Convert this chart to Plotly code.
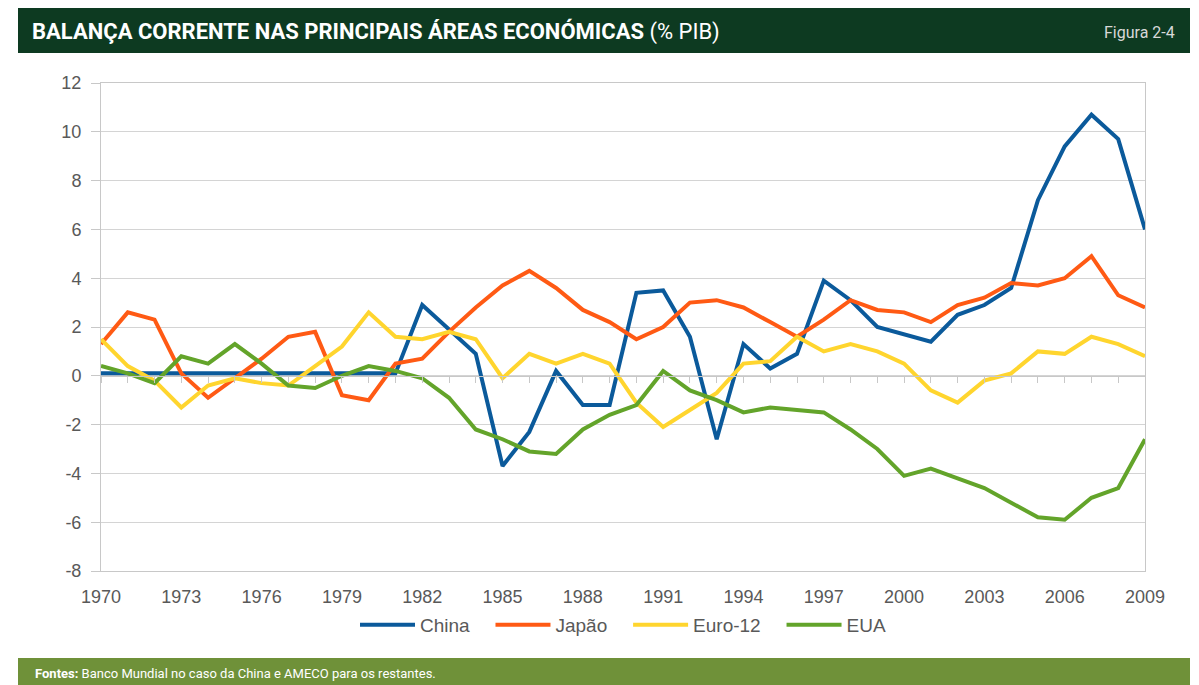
import plotly.graph_objects as go

years = list(range(1970, 2010))
china = [0.1, 0.1, 0.1, 0.1, 0.1, 0.1, 0.1, 0.1, 0.1, 0.1, 0.1, 0.1,
         2.9, 1.9, 0.9, -3.7, -2.3, 0.2, -1.2, -1.2, 3.4, 3.5, 1.6, -2.6,
         1.3, 0.3, 0.9, 3.9, 3.1, 2.0, 1.7, 1.4, 2.5, 2.9, 3.6, 7.2, 9.4,
         10.7, 9.7, 6.0]
japao = [1.3, 2.6, 2.3, 0.1, -0.9, -0.1, 0.7, 1.6, 1.8, -0.8, -1.0, 0.5,
         0.7, 1.8, 2.8, 3.7, 4.3, 3.6, 2.7, 2.2, 1.5, 2.0, 3.0, 3.1, 2.8,
         2.2, 1.6, 2.3, 3.1, 2.7, 2.6, 2.2, 2.9, 3.2, 3.8, 3.7, 4.0, 4.9,
         3.3, 2.8]
euro12 = [1.5, 0.4, -0.2, -1.3, -0.4, -0.1, -0.3, -0.4, 0.4, 1.2, 2.6, 1.6,
          1.5, 1.8, 1.5, -0.1, 0.9, 0.5, 0.9, 0.5, -1.1, -2.1, -1.4, -0.7,
          0.5, 0.6, 1.6, 1.0, 1.3, 1.0, 0.5, -0.6, -1.1, -0.2, 0.1, 1.0,
          0.9, 1.6, 1.3, 0.8]
eua = [0.4, 0.1, -0.3, 0.8, 0.5, 1.3, 0.5, -0.4, -0.5, 0.0, 0.4, 0.2,
       -0.1, -0.9, -2.2, -2.6, -3.1, -3.2, -2.2, -1.6, -1.2, 0.2, -0.6, -1.0,
       -1.5, -1.3, -1.4, -1.5, -2.2, -3.0, -4.1, -3.8, -4.2, -4.6, -5.2,
       -5.8, -5.9, -5.0, -4.6, -2.6]

series_names = ["China", "Japão", "Euro-12", "EUA"]
series_values = [china, japao, euro12, eua]
series_colors = ["#0b5a9b", "#ff5a14", "#ffd52e", "#63a42a"]

x_tickvals = list(range(1970, 2010, 3))
x_ticktext = [str(v) for v in x_tickvals]
y_tickvals = list(range(-8, 13, 2))
y_ticktext = [str(v) for v in y_tickvals]

W, H = 1199, 685
L, R, T, B = 101, 1145, 83, 571


def px(xp):
    return (xp - L) / (R - L)


def py(yp):
    return (B - yp) / (B - T)


fig = go.Figure()
n = len(series_names)
for i, (name, vals, col) in enumerate(zip(series_names, series_values, series_colors)):
    pad = "\u00a0\u00a0\u00a0" if i < n - 1 else ""
    fig.add_trace(go.Scatter(x=years, y=vals, name=name + pad, mode="lines",
                             line=dict(color=col, width=4)))

# invisible trace on the second x axis so it is drawn (zero-line ticks)
fig.add_trace(go.Scatter(x=[1970, 2009], y=[0, 0], xaxis="x2", mode="lines",
                         line=dict(width=0), showlegend=False, hoverinfo="skip"))

axis_font = dict(family="Liberation Sans, Arial", size=18, color="#595959")

fig.update_layout(
    width=W, height=H,
    margin=dict(l=L, r=W - R, t=T, b=H - B),
    paper_bgcolor="white", plot_bgcolor="white",
    showlegend=True,
    legend=dict(orientation="h", x=0.5, xanchor="center",
                y=py(625), yanchor="middle",
                font=dict(family="Liberation Sans, Arial", size=19, color="#595959"),
                itemwidth=55, tracegroupgap=0),
    xaxis=dict(range=[1970, 2009], tickvals=x_tickvals, ticktext=x_ticktext,
               showgrid=False, zeroline=False, showline=True, mirror=True,
               linecolor="#c8c8c8", linewidth=1, ticks="", tickfont=axis_font,
               ticklabelstandoff=9),
    xaxis2=dict(range=[1970, 2009], overlaying="x", anchor="free",
                position=py(376), dtick=1, tick0=1970, ticks="outside",
                ticklen=6, tickcolor="#c8c8c8", showticklabels=False,
                showgrid=False, zeroline=False, showline=True,
                linecolor="#c8c8c8", linewidth=1),
    yaxis=dict(range=[-8, 12], tickvals=y_tickvals, ticktext=y_ticktext,
               showgrid=True, gridcolor="#d4d4d4", gridwidth=1, zeroline=False,
               showline=True, mirror=True, linecolor="#c8c8c8", linewidth=1,
               ticks="outside", ticklen=9, tickcolor="#c8c8c8",
               tickfont=axis_font, ticklabelstandoff=6),
)

# header and footer bars
fig.add_shape(type="rect", xref="paper", yref="paper",
              x0=px(18), x1=px(1190), y0=py(53), y1=py(8),
              fillcolor="#0d3a21", line=dict(width=0), layer="below")
fig.add_shape(type="rect", xref="paper", yref="paper",
              x0=px(18), x1=px(1190), y0=py(685), y1=py(658),
              fillcolor="#6f9139", line=dict(width=0), layer="below")

fig.add_annotation(xref="paper", yref="paper", x=px(30), y=py(31),
                   xanchor="left", yanchor="middle", showarrow=False,
                   text="<b>BALANÇA CORRENTE NAS PRINCIPAIS ÁREAS ECONÓMICAS</b> (% PIB)",
                   font=dict(family="Roboto", size=22, color="white"))
fig.add_annotation(xref="paper", yref="paper", x=px(1177), y=py(33),
                   xanchor="right", yanchor="middle", showarrow=False,
                   text="Figura 2-4",
                   font=dict(family="Roboto", size=16, color="#d8d8d8"))
fig.add_annotation(xref="paper", yref="paper", x=px(33), y=py(673),
                   xanchor="left", yanchor="middle", showarrow=False,
                   text="<b>Fontes:</b> Banco Mundial no caso da China e AMECO para os restantes.",
                   font=dict(family="Roboto", size=13, color="white"))

fig.write_html("out.html", config={"displayModeBar": False},
               post_script="document.body.style.margin='0';")
